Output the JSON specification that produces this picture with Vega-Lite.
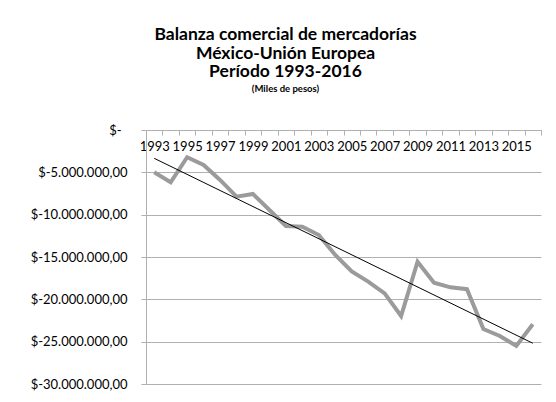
{
  "$schema": "https://vega.github.io/schema/vega-lite/v6.json",
  "width": 395,
  "height": 254,
  "autosize": "none",
  "padding": {"left": 146, "top": 130, "right": 15, "bottom": 18},
  "background": "white",
  "config": {"view": {"stroke": null}, "font": "Lato"},
  "title": {
    "text": ["Balanza comercial de mercadorías", "México-Unión Europea", "Período 1993-2016"],
    "subtitle": "(Miles de pesos)",
    "font": "Lato",
    "fontSize": 17.5,
    "fontWeight": "bold",
    "lineHeight": 18.6,
    "color": "#000000",
    "subtitleFont": "Lato",
    "subtitleFontSize": 9.5,
    "subtitleFontWeight": "bold",
    "subtitleColor": "#000000",
    "subtitlePadding": 3,
    "anchor": "middle",
    "frame": "group",
    "dx": -58,
    "offset": 30.5
  },
  "data": {
    "values": [
      {"year": 1993, "value": -5000000},
      {"year": 1994, "value": -6180000},
      {"year": 1995, "value": -3220000},
      {"year": 1996, "value": -4130000},
      {"year": 1997, "value": -5900000},
      {"year": 1998, "value": -7880000},
      {"year": 1999, "value": -7560000},
      {"year": 2000, "value": -9450000},
      {"year": 2001, "value": -11340000},
      {"year": 2002, "value": -11420000},
      {"year": 2003, "value": -12400000},
      {"year": 2004, "value": -14760000},
      {"year": 2005, "value": -16700000},
      {"year": 2006, "value": -17900000},
      {"year": 2007, "value": -19300000},
      {"year": 2008, "value": -21970000},
      {"year": 2009, "value": -15550000},
      {"year": 2010, "value": -18030000},
      {"year": 2011, "value": -18580000},
      {"year": 2012, "value": -18800000},
      {"year": 2013, "value": -23500000},
      {"year": 2014, "value": -24330000},
      {"year": 2015, "value": -25500000},
      {"year": 2016, "value": -22950000}
    ]
  },
  "encoding": {
    "x": {
      "field": "year",
      "type": "quantitative",
      "scale": {"domain": [1992.5, 2016.5], "nice": false, "zero": false},
      "axis": {
        "title": null,
        "orient": "bottom",
        "offset": -254,
        "values": [1992.5, 1993.5, 1994.5, 1995.5, 1996.5, 1997.5, 1998.5, 1999.5, 2000.5, 2001.5, 2002.5, 2003.5, 2004.5, 2005.5, 2006.5, 2007.5, 2008.5, 2009.5, 2010.5, 2011.5, 2012.5, 2013.5, 2014.5, 2015.5, 2016.5],
        "labelExpr": "((datum.value + 0.5) % 2 == 1 && datum.value < 2016) ? format(datum.value + 0.5, 'd') : ''",
        "labelOffset": 8.23,
        "labelAlign": "center",
        "labelOverlap": false,
        "labelBound": false,
        "labelFlush": false,
        "labelFont": "Lato",
        "labelFontSize": 13,
        "labelColor": "#000000",
        "labelPadding": 5,
        "tickSize": 5,
        "tickColor": "#b0b0b0",
        "domainColor": "#b0b0b0",
        "grid": false
      }
    },
    "y": {
      "field": "value",
      "type": "quantitative",
      "scale": {"domain": [-30000000, 0], "nice": false},
      "axis": {
        "title": null,
        "values": [0, -5000000, -10000000, -15000000, -20000000, -25000000, -30000000],
        "labelExpr": "datum.value == 0 ? '$-' : '$-' + replace(replace(replace(format(abs(datum.value), ',.2f'), regexp(',', 'g'), '_'), '.', ','), regexp('_', 'g'), '.')",
        "labelFont": "Lato",
        "labelFontSize": 13,
        "labelColor": "#000000",
        "labelPadding": {"condition": {"test": "datum.value == 0", "value": 20}, "value": 14},
        "tickSize": 5,
        "tickColor": "#b0b0b0",
        "domainColor": "#b0b0b0",
        "grid": true,
        "gridColor": "#b0b0b0",
        "labelOverlap": false,
        "labelBound": false,
        "labelFlush": false
      }
    }
  },
  "layer": [
    {
      "mark": {"type": "line", "color": "#9b9b9b", "strokeWidth": 4, "strokeJoin": "miter"}
    },
    {
      "transform": [{"regression": "value", "on": "year", "method": "linear"}],
      "mark": {"type": "line", "color": "#000000", "strokeWidth": 1}
    }
  ]
}
